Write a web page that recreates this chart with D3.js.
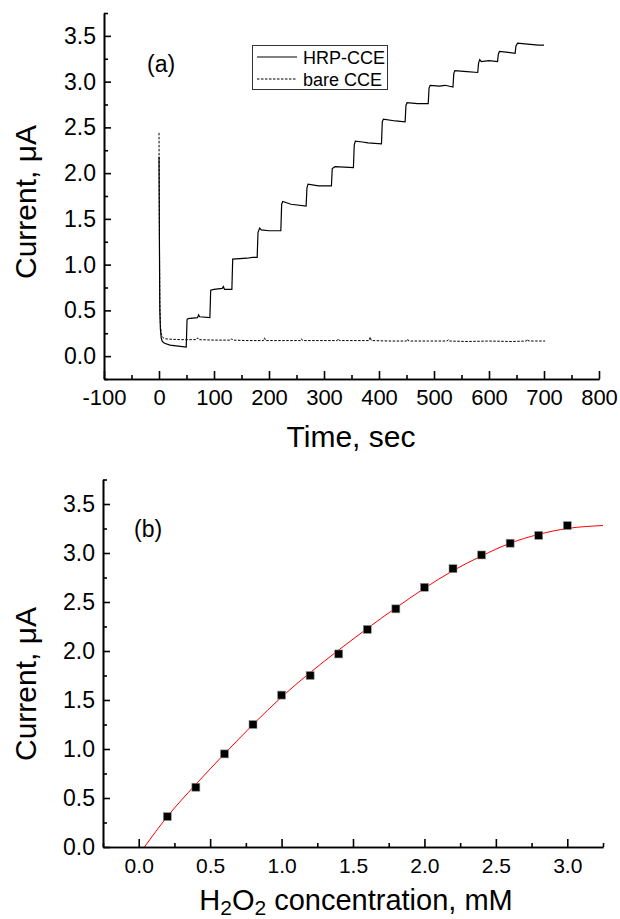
<!DOCTYPE html>
<html>
<head>
<meta charset="utf-8">
<script src="https://cdn.jsdelivr.net/npm/d3@7"></script>
<style>
  body { margin: 0; background: #fff; }
  svg text { font-family: "Liberation Sans", Arial, sans-serif; fill: #000; }
</style>
</head>
<body>
<div id="chart"></div>
<script>
// panel (a) : amperometric response, HRP-CCE vs bare CCE
var hrpTime = [0, 0.8, 1.5, 2.5, 4, 6, 10, 20, 35, 49.5,
  51, 53, 70, 72, 74, 92.5,
  94, 100, 115, 117, 119, 132.5,
  134, 160, 170, 178.5,
  180, 183, 186, 200, 221.5,
  223, 225, 240, 267.5,
  269, 271, 290, 313.5,
  315, 320, 353.5,
  355, 357, 370, 380, 404.5,
  406, 408, 430, 447.5,
  449, 451, 470, 489.5,
  491, 493, 510, 520, 534.5,
  536, 538, 560, 579.5,
  581, 583, 586, 600, 615.5,
  617, 619, 635, 647.5,
  649, 652, 670, 690, 700];
var hrpCurrent = [2.18, 1.2, 0.5, 0.3, 0.2, 0.16, 0.14, 0.12, 0.11, 0.10,
  0.40, 0.41, 0.42, 0.45, 0.43, 0.42,
  0.72, 0.73, 0.74, 0.76, 0.73, 0.73,
  1.06, 1.07, 1.08, 1.08,
  1.35, 1.40, 1.38, 1.37, 1.37,
  1.66, 1.69, 1.66, 1.64,
  1.84, 1.88, 1.86, 1.86,
  2.05, 2.07, 2.06,
  2.31, 2.35, 2.34, 2.33, 2.32,
  2.56, 2.59, 2.57, 2.56,
  2.74, 2.77, 2.76, 2.76,
  2.93, 2.96, 2.95, 2.96, 2.94,
  3.09, 3.12, 3.11, 3.10,
  3.20, 3.24, 3.22, 3.23, 3.22,
  3.30, 3.33, 3.32, 3.31,
  3.39, 3.42, 3.41, 3.40, 3.40];

var bareTime = [0, 0.8, 1.5, 2.5, 4, 6, 10, 20, 40, 68, 70, 72, 100, 130, 132, 134,
  160, 190, 192, 194, 230, 257, 259, 261, 300, 324, 326, 328, 360, 382, 384, 386,
  420, 450, 452, 454, 490, 524, 526, 528, 560, 600, 640, 668, 670, 672, 702];
var bareCurrent = [2.44, 1.3, 0.6, 0.35, 0.25, 0.21, 0.19, 0.185, 0.18, 0.18, 0.20, 0.18, 0.175, 0.175, 0.19, 0.175,
  0.17, 0.17, 0.20, 0.17, 0.17, 0.17, 0.19, 0.17, 0.17, 0.17, 0.19, 0.17, 0.17, 0.17, 0.21, 0.17,
  0.165, 0.165, 0.185, 0.165, 0.165, 0.165, 0.18, 0.165, 0.16, 0.165, 0.16, 0.165, 0.185, 0.165, 0.165];

var timeTicks = [-100, 0, 100, 200, 300, 400, 500, 600, 700, 800];
var timeMinor = [-50, 50, 150, 250, 350, 450, 550, 650, 750];
var currTicksA = [0.0, 0.5, 1.0, 1.5, 2.0, 2.5, 3.0, 3.5];
var currMinorA = [-0.25, 0.25, 0.75, 1.25, 1.75, 2.25, 2.75, 3.25, 3.75];

// panel (b) : calibration
var concentration = [0.2, 0.4, 0.6, 0.8, 1.0, 1.2, 1.4, 1.6, 1.8, 2.0, 2.2, 2.4, 2.6, 2.8, 3.0];
var response = [0.31, 0.61, 0.95, 1.25, 1.55, 1.75, 1.97, 2.22, 2.43, 2.65, 2.84, 2.98, 3.10, 3.18, 3.28];
var fitConc = [0.04, 0.2, 0.4, 0.6, 0.8, 1.0, 1.2, 1.4, 1.6, 1.8, 2.0, 2.2, 2.4, 2.6, 2.8, 3.0, 3.25];
var fitCurr = [0.0, 0.31, 0.64, 0.95, 1.25, 1.53, 1.78, 2.01, 2.23, 2.44, 2.64, 2.82, 2.97, 3.10, 3.19, 3.25, 3.28];
var concTicks = [0.0, 0.5, 1.0, 1.5, 2.0, 2.5, 3.0];
var concMinor = [-0.25, 0.25, 0.75, 1.25, 1.75, 2.25, 2.75, 3.25];
var currTicksB = [0.0, 0.5, 1.0, 1.5, 2.0, 2.5, 3.0, 3.5];
var currMinorB = [0.25, 0.75, 1.25, 1.75, 2.25, 2.75, 3.25, 3.75];

var svg = d3.select('#chart').append('svg')
  .attr('width', 620)
  .attr('height', 919);

var fmt = d3.format('.1f');
var plain = function(d) { return String(d); };  // keeps the ascii hyphen on -100

function drawAxes(g, x, y, xt, xm, yt, ym, xFont, xPad, xFmt) {
  var x0 = y.range()[0], y0 = x.range()[0];
  g.append('g')
    .attr('transform', 'translate(0,' + x0 + ')')
    .call(d3.axisBottom(x).tickValues(xm).tickSize(-4).tickSizeOuter(0).tickFormat(''));
  var xa = g.append('g')
    .attr('transform', 'translate(0,' + x0 + ')')
    .call(d3.axisBottom(x).tickValues(xt).tickSize(-8).tickSizeOuter(0).tickPadding(xPad).tickFormat(xFmt));
  xa.selectAll('text').attr('font-size', xFont + 'px');
  g.append('g')
    .attr('transform', 'translate(' + y0 + ',0)')
    .call(d3.axisLeft(y).tickValues(ym).tickSize(-4).tickSizeOuter(0).tickFormat(''));
  var ya = g.append('g')
    .attr('transform', 'translate(' + y0 + ',0)')
    .call(d3.axisLeft(y).tickValues(yt).tickSize(-7).tickSizeOuter(0).tickPadding(8).tickFormat(fmt));
  ya.selectAll('text').attr('font-size', '23px');
  g.selectAll('.domain, .tick line').attr('stroke', '#000').attr('stroke-width', 1.6);
  g.selectAll('text').style('font-family', '"Liberation Sans", Arial, sans-serif');
}

// ---- panel (a)
var xa = d3.scaleLinear().domain([-100, 800]).range([104, 599]);
var ya = d3.scaleLinear().domain([-0.25, 3.75]).range([379, 13]);
var ga = svg.append('g');

var lineA = d3.line()
  .x(function(d) { return xa(d[0]); })
  .y(function(d) { return ya(d[1]); });

ga.append('path')
  .datum(d3.zip(bareTime, bareCurrent))
  .attr('d', lineA)
  .attr('fill', 'none')
  .attr('stroke', '#000')
  .attr('stroke-width', 1)
  .attr('stroke-dasharray', '2.5,1.5');

ga.append('path')
  .datum(d3.zip(hrpTime, hrpCurrent))
  .attr('d', lineA)
  .attr('fill', 'none')
  .attr('stroke', '#000')
  .attr('stroke-width', 1.2);

drawAxes(ga, xa, ya, timeTicks, timeMinor, currTicksA, currMinorA, 22, 10, plain);

ga.append('text')
  .attr('x', 147).attr('y', 72)
  .attr('font-size', '23px')
  .text('(a)');

// legend
var leg = ga.append('g');
leg.append('rect')
  .attr('x', 252.5).attr('y', 45.5).attr('width', 135).attr('height', 44)
  .attr('fill', 'none').attr('stroke', '#333').attr('stroke-width', 1);
var legItems = [['HRP-CCE', null], ['bare CCE', '2.5,1.5']];
legItems.forEach(function(it, i) {
  var yy = 57 + i * 22;
  leg.append('line')
    .attr('x1', 257).attr('x2', 297).attr('y1', yy).attr('y2', yy)
    .attr('stroke', '#000').attr('stroke-width', 1)
    .attr('stroke-dasharray', it[1]);
  leg.append('text')
    .attr('x', 303).attr('y', yy + 6.5)
    .attr('font-size', '18px')
    .text(it[0]);
});

ga.append('text')
  .attr('x', 351).attr('y', 447)
  .attr('text-anchor', 'middle')
  .attr('font-size', '30px')
  .text('Time, sec');

ga.append('text')
  .attr('transform', 'translate(36,202) rotate(-90)')
  .attr('text-anchor', 'middle')
  .attr('font-size', '30px')
  .text('Current, \u03bcA');

// ---- panel (b)
var xb = d3.scaleLinear().domain([-0.25, 3.25]).range([103, 603]);
var yb = d3.scaleLinear().domain([0, 3.75]).range([847, 479.5]);
var gb = svg.append('g');

gb.append('path')
  .datum(d3.zip(fitConc, fitCurr))
  .attr('d', d3.line()
    .x(function(d) { return xb(d[0]); })
    .y(function(d) { return yb(d[1]); })
    .curve(d3.curveMonotoneX))
  .attr('fill', 'none')
  .attr('stroke', '#ff0000')
  .attr('stroke-width', 1);

gb.selectAll('rect.pt')
  .data(d3.zip(concentration, response))
  .enter()
  .append('rect')
  .attr('class', 'pt')
  .attr('x', function(d) { return xb(d[0]) - 4; })
  .attr('y', function(d) { return yb(d[1]) - 4; })
  .attr('width', 8)
  .attr('height', 8)
  .attr('fill', '#000')
  .attr('stroke', '#999')
  .attr('stroke-width', 0.6);

drawAxes(gb, xb, yb, concTicks, concMinor, currTicksB, currMinorB, 21, 11, fmt);

gb.append('text')
  .attr('x', 134).attr('y', 537)
  .attr('font-size', '23px')
  .text('(b)');

var xt = gb.append('text')
  .attr('x', 356).attr('y', 910)
  .attr('text-anchor', 'middle')
  .attr('font-size', '29px');
xt.append('tspan').text('H');
xt.append('tspan').attr('font-size', '21px').attr('dy', 5).text('2');
xt.append('tspan').attr('dy', -5).text('O');
xt.append('tspan').attr('font-size', '21px').attr('dy', 5).text('2');
xt.append('tspan').attr('dy', -5).text(' concentration, mM');

gb.append('text')
  .attr('transform', 'translate(36,684) rotate(-90)')
  .attr('text-anchor', 'middle')
  .attr('font-size', '30px')
  .text('Current, \u03bcA');
</script>
</body>
</html>
